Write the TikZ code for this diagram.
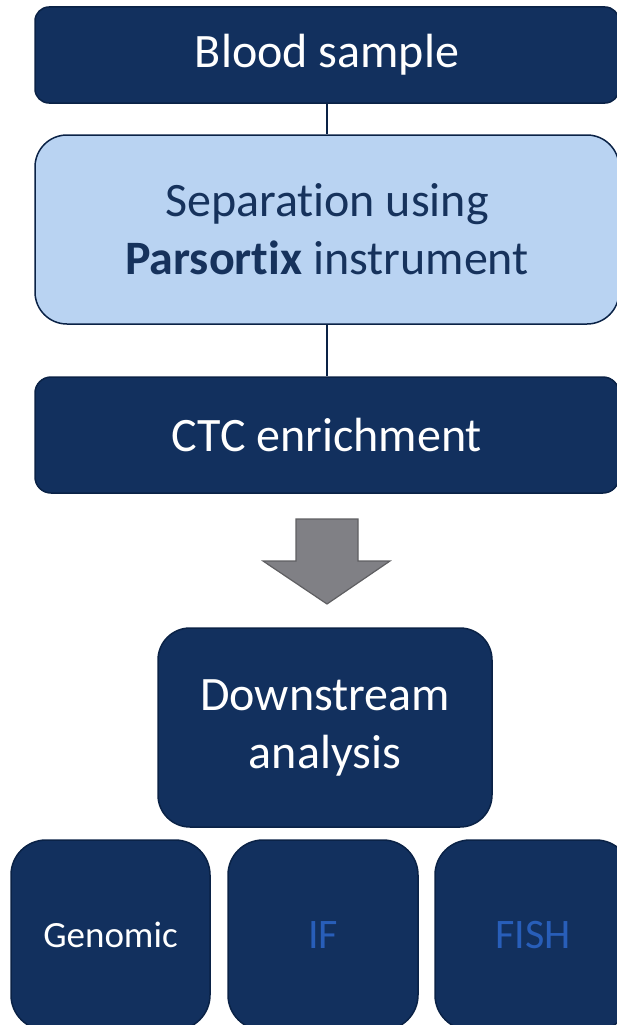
\documentclass[tikz,border=0pt]{standalone}
\usepackage{fontspec}
\setmainfont[Ligatures=NoCommon]{Carlito}
\definecolor{navy}{RGB}{18,48,94}
\definecolor{navyline}{RGB}{10,34,70}
\definecolor{paleblue}{RGB}{185,211,242}
\definecolor{darktext}{RGB}{22,50,92}
\definecolor{midblue}{RGB}{40,94,185}
\definecolor{arrowgray}{RGB}{128,128,133}
\definecolor{arrowline}{RGB}{95,95,98}
\begin{document}
\begin{tikzpicture}[x=1pt,y=-1pt]
		\tikzstyle{stepbox}=[draw=navyline,line width=1.5pt,fill=navy,text=white,align=center,inner sep=0pt]
		\tikzstyle{palebox}=[stepbox,fill=paleblue,text=darktext]
		\tikzstyle{bigtext}=[font=\fontsize{48}{58}\selectfont]
		\tikzstyle{midtext}=[font=\fontsize{42}{50}\selectfont]
		\tikzstyle{smalltext}=[font=\fontsize{37}{44}\selectfont]
		\tikzstyle{link}=[draw=navyline,line width=1.5pt]

		\useasboundingbox (0,0) rectangle (617,1025);

		\node[stepbox,bigtext,minimum width=584pt,minimum height=96pt,rounded corners=14pt](blood) at (327,55){Blood sample};
		\node[palebox,bigtext,minimum width=584pt,minimum height=189pt,rounded corners=32pt](sep) at (327,229.5){Separation using\\\textbf{Parsortix} instrument};
		\node[stepbox,bigtext,minimum width=584pt,minimum height=116pt,rounded corners=16pt](ctc) at (327,435){CTC enrichment};

		\node[stepbox,bigtext,minimum width=334pt,minimum height=199pt,rounded corners=32pt](down) at (325,727.5){Downstream\\analysis};

		\node[stepbox,smalltext,minimum width=199pt,minimum height=190pt,rounded corners=35pt](genomic) at (110.5,935){Genomic};
		\node[stepbox,midtext,text=midblue,minimum width=190pt,minimum height=190pt,rounded corners=35pt](if) at (323,935){IF};
		\node[stepbox,midtext,text=midblue,minimum width=196pt,minimum height=190pt,rounded corners=35pt](fish) at (533,935){FISH};

		\draw[link] (blood.south) -- (sep.north);
		\draw[link] (sep.south) -- (ctc.north);

		% block arrow between enrichment and analysis
		\coordinate (tip) at (327,604);
		\draw[fill=arrowgray,draw=arrowline,line width=1.2pt,line join=miter]
		  (296,519) -- (358,519) -- (358,561) -- (390,561) -- (tip) -- (263,561) -- (296,561) -- cycle;

        \end{tikzpicture}
\end{document}
